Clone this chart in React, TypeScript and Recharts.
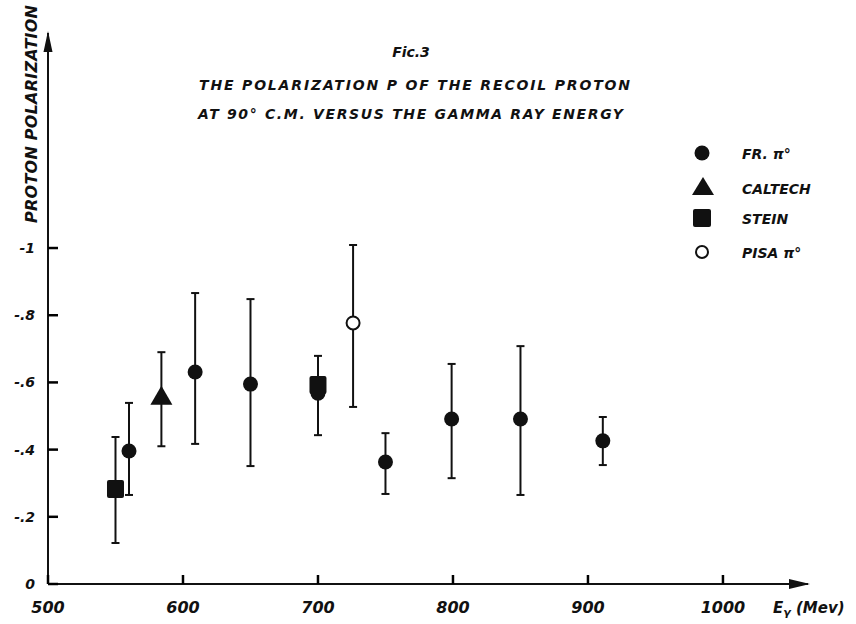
import React from 'react';
import { ScatterChart, Scatter, XAxis, YAxis, ErrorBar } from 'recharts';

// Frascati pi0 points
const frEnergy = [560, 609, 650, 700, 750, 799, 850, 911];
const frP = [-0.396, -0.631, -0.595, -0.568, -0.363, -0.491, -0.491, -0.426];
const frLow = [-0.265, -0.417, -0.351, -0.443, -0.268, -0.315, -0.265, -0.354];
const frHigh = [-0.539, -0.866, -0.848, -0.679, -0.449, -0.655, -0.708, -0.497];

const caltechEnergy = [584];
const caltechP = [-0.557];
const caltechLow = [-0.41];
const caltechHigh = [-0.69];

const steinEnergy = [550, 700];
const steinP = [-0.283, -0.592];
const steinLow = [-0.122, -0.592];
const steinHigh = [-0.4375, -0.592];

const pisaEnergy = [726];
const pisaP = [-0.777];
const pisaLow = [-0.527];
const pisaHigh = [-1.009];

const xTicks = [500, 600, 700, 800, 900, 1000];
const yTicks = [0, -0.2, -0.4, -0.6, -0.8, -1];

const titleLines = ['Fic.3', 'THE POLARIZATION P OF THE RECOIL PROTON', 'AT 90° C.M. VERSUS THE GAMMA RAY ENERGY'];
const legendNames = ['FR. π°', 'CALTECH', 'STEIN', 'PISA π°'];

const build = (e: number[], p: number[], lo: number[], hi: number[]) =>
    e.map((x, i) => ({ x, y: p[i], err: [Math.abs(p[i] - hi[i]), Math.abs(lo[i] - p[i])] }));

const FONT = '"DejaVu Sans", sans-serif';
const INK = '#111';

const Dot = (props: any) => <circle cx={props.cx} cy={props.cy} r={7.5} fill={INK} />;
const OpenDot = (props: any) => (
    <circle cx={props.cx} cy={props.cy} r={6.5} fill="#fff" stroke={INK} strokeWidth={2} />
);
const Tri = (props: any) => (
    <polygon
        points={`${props.cx},${props.cy - 11} ${props.cx - 11},${props.cy + 8} ${props.cx + 11},${props.cy + 8}`}
        fill={INK}
    />
);
const Sq = (props: any) => (
    <rect x={props.cx - 8.5} y={props.cy - 9} width={17} height={18} rx={2} fill={INK} />
);

const fmtY = (v: number) => {
    if (v === 0) return '0';
    if (v === -1) return '-1';
    return '-' + String(Math.abs(v)).replace('0.', '.');
};

// tick marks point inward, drawn together with the label
// (at 500 and 0 the mark just lies on the other axis)
const XTick = (props: any) => {
    const { x, y, payload } = props;
    return (
        <g>
            <path d={`M${x},${y} v-9`} stroke="#000" strokeWidth={2.5} fill="none" />
            <text x={x} y={y + 29} textAnchor="middle" fontFamily={FONT} fontStyle="italic" fontWeight="bold" fontSize={16} fill={INK}>
                {payload.value}
            </text>
        </g>
    );
};

const YTick = (props: any) => {
    const { x, y, payload } = props;
    return (
        <g>
            <path d={`M${x},${y} h10`} stroke="#000" strokeWidth={2.5} fill="none" />
            <text x={x - 13} y={y + 5} textAnchor="end" fontFamily={FONT} fontStyle="italic" fontWeight="bold" fontSize={14} fill={INK}>
                {fmtY(payload.value)}
            </text>
        </g>
    );
};

export default function App() {
    const fr = build(frEnergy, frP, frLow, frHigh);
    const caltech = build(caltechEnergy, caltechP, caltechLow, caltechHigh);
    const stein = build(steinEnergy, steinP, steinLow, steinHigh);
    const pisa = build(pisaEnergy, pisaP, pisaLow, pisaHigh);

    const txt = { fontFamily: FONT, fontStyle: 'italic', fontWeight: 'bold', fill: INK } as const;
    const legendY = [153, 188, 218, 252];

    return (
        <div style={{ position: 'absolute', left: 0, top: 0, width: 856, height: 624, background: '#fff' }}>
            <ScatterChart width={856} height={624} margin={{ top: 33, right: 48, bottom: 0, left: 0 }}>
                <XAxis
                    type="number"
                    dataKey="x"
                    domain={[500, 1063]}
                    ticks={xTicks}
                    height={40}
                    tickSize={0}
                    tickMargin={0}
                    tickLine={false}
                    axisLine={{ stroke: INK, strokeWidth: 2 }}
                    tick={<XTick />}
                    allowDataOverflow
                />
                <YAxis
                    type="number"
                    dataKey="y"
                    domain={[-1.64, 0]}
                    reversed
                    ticks={yTicks}
                    width={48}
                    tickSize={0}
                    tickMargin={0}
                    tickLine={false}
                    axisLine={{ stroke: INK, strokeWidth: 2 }}
                    tick={<YTick />}
                    allowDataOverflow
                />
                <Scatter name="FR" data={fr} shape={<Dot />} isAnimationActive={false}>
                    <ErrorBar dataKey="err" direction="y" width={4} stroke={INK} strokeWidth={2} isAnimationActive={false} />
                </Scatter>
                <Scatter name="CALTECH" data={caltech} shape={<Tri />} isAnimationActive={false}>
                    <ErrorBar dataKey="err" direction="y" width={4} stroke={INK} strokeWidth={2} isAnimationActive={false} />
                </Scatter>
                <Scatter name="STEIN" data={stein} shape={<Sq />} isAnimationActive={false}>
                    <ErrorBar dataKey="err" direction="y" width={4} stroke={INK} strokeWidth={2} isAnimationActive={false} />
                </Scatter>
                <Scatter name="PISA" data={pisa} shape={<OpenDot />} isAnimationActive={false}>
                    <ErrorBar dataKey="err" direction="y" width={4} stroke={INK} strokeWidth={2} isAnimationActive={false} />
                </Scatter>
            </ScatterChart>

            <svg width={856} height={624} style={{ position: 'absolute', left: 0, top: 0, pointerEvents: 'none' }}>
                {/* axis arrowheads */}
                <polygon points="48,31 43.5,52 52.5,52" fill={INK} />
                <polygon points="810,584 789,579 789,589" fill={INK} />

                <text x={411} y={57} textAnchor="middle" fontSize={14} {...txt}>{titleLines[0]}</text>
                <text x={199} y={90} fontSize={14} textLength={431} lengthAdjust="spacing" {...txt}>{titleLines[1]}</text>
                <text x={198} y={119} fontSize={14} textLength={425} lengthAdjust="spacing" {...txt}>{titleLines[2]}</text>

                <text
                    transform="translate(37,114) rotate(-90)"
                    textAnchor="middle"
                    fontSize={16}
                    textLength={218}
                    lengthAdjust="spacing"
                    {...txt}
                >
                    PROTON POLARIZATION
                </text>

                <text x={773} y={613} fontSize={15} {...txt}>
                    E<tspan fontSize={11} dy={3}>γ</tspan><tspan dy={-3}> (Mev)</tspan>
                </text>

                {/* legend */}
                <circle cx={702} cy={legendY[0]} r={7.5} fill={INK} />
                <polygon points={`703,${legendY[1] - 11} 692,${legendY[1] + 7} 714,${legendY[1] + 7}`} fill={INK} />
                <rect x={693} y={legendY[2] - 9} width={18} height={18} rx={2} fill={INK} />
                <circle cx={702} cy={legendY[3]} r={6} fill="#fff" stroke={INK} strokeWidth={2} />
                {legendNames.map((n, i) => (
                    <text key={n} x={742} y={legendY[i] + 6} fontSize={14} {...txt}>{n}</text>
                ))}
            </svg>
        </div>
    );
}
